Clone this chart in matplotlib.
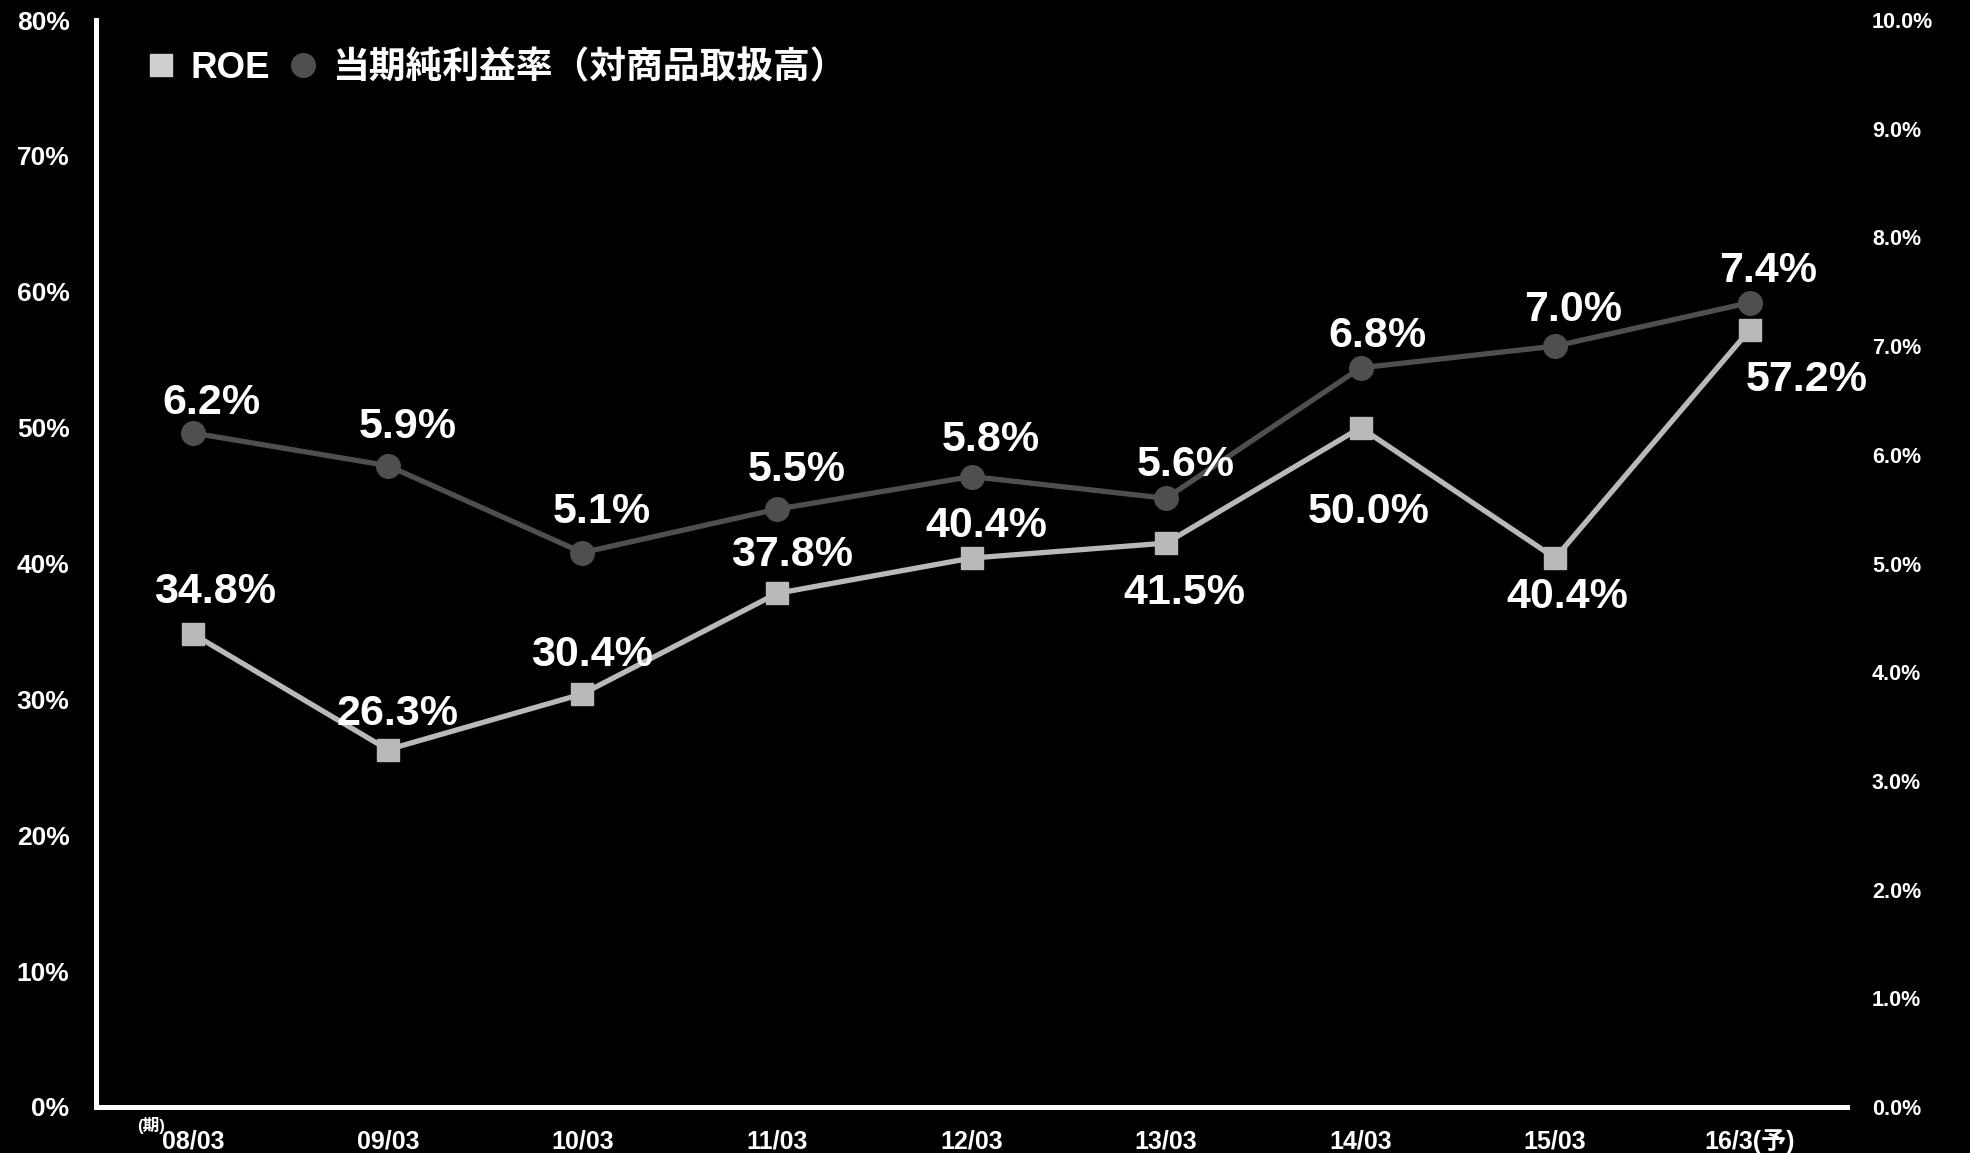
import matplotlib
matplotlib.use("Agg")
import matplotlib.pyplot as plt
from matplotlib.lines import Line2D

plt.rcParams['font.family'] = ['Liberation Sans', 'Noto Sans CJK JP', 'DejaVu Sans']
plt.rcParams['font.weight'] = 'bold'

# ---- data ----
periods = ["08/03", "09/03", "10/03", "11/03", "12/03", "13/03", "14/03", "15/03", "16/3(予)"]
roe = [34.8, 26.3, 30.4, 37.8, 40.4, 41.5, 50.0, 40.4, 57.2]
margin = [6.2, 5.9, 5.1, 5.5, 5.8, 5.6, 6.8, 7.0, 7.4]
left_ticks = [0, 10, 20, 30, 40, 50, 60, 70, 80]
right_ticks = [0, 1, 2, 3, 4, 5, 6, 7, 8, 9, 10]
legend_labels = ["ROE", "当期純利益率（対商品取扱高）"]

# label offsets (points) for data labels
roe_off = [(16, 30), (7, 26), (7, 28), (11, 28), (11, 23), (13, -36), (6, -61), (9, -28), (41, -36)]
mar_off = [(13, 22), (14, 28), (14, 29), (14, 28), (14, 26), (14, 24), (12, 23), (13, 26), (13, 23)]

ROE_C = "#b9b9b9"
MAR_C = "#4f4f4f"

fig = plt.figure(figsize=(19.70, 11.53), dpi=100, facecolor="black")
ax = fig.add_axes([96 / 1970, 1 - 1107 / 1153, (1847 - 96) / 1970, (1107 - 20) / 1153])
ax.set_facecolor("black")
ax2 = ax.twinx()

x = list(range(len(periods)))

ax.plot(x, roe, color=ROE_C, lw=3.8, marker="s", markersize=16, markerfacecolor=ROE_C,
        markeredgecolor=ROE_C, zorder=3)
ax2.plot(x, margin, color=MAR_C, lw=3.8, marker="o", markersize=17, markerfacecolor=MAR_C,
         markeredgecolor=MAR_C, zorder=3)

ax.set_xlim(-0.5, len(periods) - 0.5)
ax.set_ylim(0, 80)
ax2.set_ylim(0, 10)

for i, v in enumerate(roe):
    ax.annotate(f"{v:.1f}%", xy=(i, v), xytext=roe_off[i], textcoords="offset points",
                ha="center", va="center", color="white", fontsize=31, fontweight="bold",
                family="Liberation Sans", zorder=5)
for i, v in enumerate(margin):
    ax2.annotate(f"{v:.1f}%", xy=(i, v), xytext=mar_off[i], textcoords="offset points",
                 ha="center", va="center", color="white", fontsize=31, fontweight="bold",
                 family="Liberation Sans", zorder=5)

ax.set_yticks(left_ticks)
ax.set_yticklabels([f"{t}%" for t in left_ticks])
ax2.set_yticks(right_ticks)
ax2.set_yticklabels([f"{t:.1f}%" for t in right_ticks])
ax.set_xticks(x)
ax.set_xticklabels(periods)

ax.tick_params(axis="y", length=0, pad=19, labelsize=19, labelcolor="white")
ax2.tick_params(axis="y", length=0, pad=18, labelsize=15.5, labelcolor="white")
ax.tick_params(axis="x", length=0, pad=16, labelsize=18, labelcolor="white")
for lab in ax.get_xticklabels():
    lab.set_fontweight("bold")

for a in (ax, ax2):
    for s in ("top", "right"):
        a.spines[s].set_visible(False)
ax2.spines["left"].set_visible(False)
ax2.spines["bottom"].set_visible(False)
ax.spines["left"].set_color("white")
ax.spines["bottom"].set_color("white")
ax.spines["left"].set_linewidth(3.6)
ax.spines["bottom"].set_linewidth(3.6)

ax.annotate("(期)", xy=(-0.29, 0), xycoords=("data", "axes fraction"), xytext=(0, -13),
            textcoords="offset points", ha="left", va="center", color="white",
            fontsize=12, fontweight="bold")

handles = [
    Line2D([], [], linestyle="none", marker="s", markersize=16, color="#cfcfcf"),
    Line2D([], [], linestyle="none", marker="o", markersize=17, color=MAR_C),
]
leg = ax2.legend(handles, legend_labels, loc="upper left", bbox_to_anchor=(0.0205, 0.982),
                 ncol=2, frameon=False, handlelength=1.0, handletextpad=0.3,
                 columnspacing=0.38, borderaxespad=0, borderpad=0.3,
                 prop={"size": 26.5, "weight": "bold",
                       "family": ["Liberation Sans", "Noto Sans CJK JP"]})
for t in leg.get_texts():
    t.set_color("white")

fig.savefig("out.png", dpi=100, facecolor="black")
